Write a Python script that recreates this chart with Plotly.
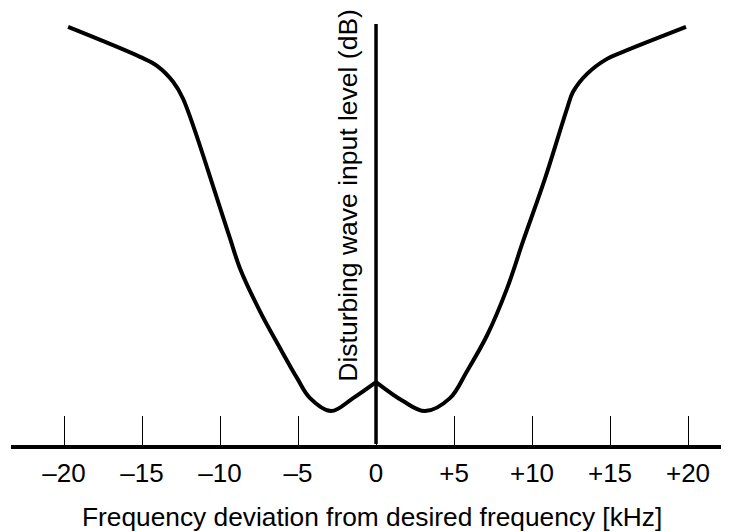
import plotly.graph_objects as go

# Data (frequency deviation in kHz, relative level in arbitrary dB units)
left_freq = [-19.74, -15.13, -14.04, -13.01, -12.37, -10.19, -9.36, -8.72, -7.44, -6.15, -5.06, -4.23, -2.88, -1.47, 0]
left_level = [41.8, 38.8, 37.9, 36.3, 34.6, 24.6, 20.6, 17.6, 13.3, 9.6, 6.6, 4.6, 3.3, 4.6, 6.2]
right_freq = [0, 1.73, 3.14, 4.74, 5.83, 7.12, 8.40, 9.42, 10.83, 12.24, 12.63, 13.53, 14.81, 15.83, 19.87]
right_level = [6.2, 4.3, 3.3, 4.6, 7.3, 10.9, 15.6, 20.3, 26.6, 33.6, 35.3, 37.1, 38.6, 39.3, 41.8]

tick_vals = [-20, -15, -10, -5, 0, 5, 10, 15, 20]
tick_text = ["\u201320", "\u201315", "\u201310", "\u20135", "0", "+5", "+10", "+15", "+20"]

axis_top = 42.1
font = "Liberation Sans, Arial, Helvetica, sans-serif"

fig = go.Figure()
fig.add_trace(go.Scatter(x=[0, 0], y=[0, axis_top], mode="lines",
                         line=dict(color="black", width=3.5), hoverinfo="skip"))
fig.add_trace(go.Scatter(x=left_freq, y=left_level, mode="lines",
                         line=dict(color="black", width=4, shape="spline", smoothing=1.0)))
fig.add_trace(go.Scatter(x=right_freq, y=right_level, mode="lines",
                         line=dict(color="black", width=4, shape="spline", smoothing=1.0)))

fig.add_annotation(text="Disturbing wave input level (dB)", x=-1.85, y=24.9,
                   xref="x", yref="y", showarrow=False, textangle=-90,
                   font=dict(family=font, size=26.5, color="black"),
                   xanchor="center", yanchor="middle")

fig.add_annotation(text="Frequency deviation from desired frequency [kHz]",
                   x=-0.28, y=0, xref="x", yref="paper", showarrow=False,
                   font=dict(family=font, size=26.3, color="black"),
                   xanchor="center", yanchor="middle", yshift=-72)

fig.update_layout(
    width=729, height=524,
    margin=dict(l=3, r=0, t=0, b=87),
    paper_bgcolor="white", plot_bgcolor="white",
    showlegend=False,
    font=dict(family=font, size=26, color="black"),
    xaxis=dict(range=[-23.40, 23.14], tickvals=tick_vals, ticktext=tick_text,
               ticks="inside", ticklen=29, tickwidth=1, tickcolor="black",
               showline=True, linewidth=3.5, linecolor="black",
               showgrid=False, zeroline=False, ticklabelstandoff=2,
               tickfont=dict(family=font, size=26, color="black")),
    yaxis=dict(range=[-0.1, 43.7], visible=False, showgrid=False, zeroline=False),
)

fig.write_html("out.html")
